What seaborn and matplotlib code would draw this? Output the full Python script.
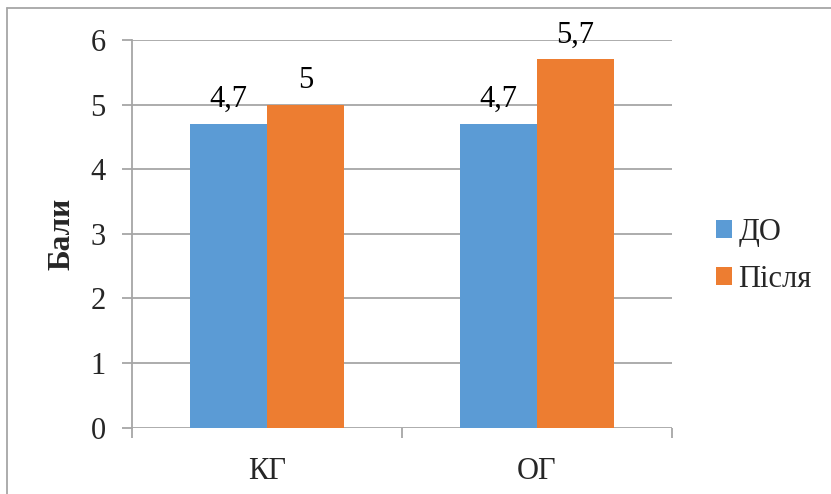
import matplotlib
matplotlib.use("Agg")
import matplotlib.pyplot as plt
from matplotlib.lines import Line2D
from matplotlib.ticker import FixedLocator
import seaborn as sns
import pandas as pd

groups = ["КГ", "ОГ"]
series = ["ДО", "Після"]
before = [4.7, 4.7]
after = [5.0, 5.7]
y_ticks = [0, 1, 2, 3, 4, 5, 6]
colors = ["#5B9BD5", "#ED7D31"]

df = pd.DataFrame({
    "group": groups * 2,
    "period": [series[0]] * len(groups) + [series[1]] * len(groups),
    "score": before + after,
})

sns.set_theme(style="white")
plt.rcParams["font.family"] = ["Liberation Serif", "DejaVu Serif"]

W, H = 831, 494
fig = plt.figure(figsize=(W / 100, H / 100), dpi=100)
ax = fig.add_axes([132 / W, 1 - 427.5 / H, (672 - 132) / W, (427.5 - 40) / H])

sns.barplot(data=df, x="group", y="score", hue="period", palette=colors,
            width=0.57, gap=0, saturation=1, ax=ax, legend=True)

for container in ax.containers:
    labels = [f"{v:g}".replace(".", ",") for v in container.datavalues]
    ax.bar_label(container, labels=labels, padding=7, fontsize=22, color="black")

for p in ax.patches:
    p.set_edgecolor("none")

ax.set_ylim(0, 6)
ax.set_xlim(-0.5, 1.5)
ax.set_yticks(y_ticks)
ax.set_yticklabels([str(t) for t in y_ticks], fontsize=22)
ax.grid(axis="y", color="#a6a6a6", linewidth=1.3)
ax.set_axisbelow(True)

for side in ["top", "right", "bottom"]:
    ax.spines[side].set_visible(False)
ax.spines["left"].set_color("#a6a6a6")
ax.spines["left"].set_linewidth(1.3)

ax.set_xticks([0, 1])
ax.set_xticklabels(groups)

# category boundary ticks on the x axis
ax.xaxis.set_minor_locator(FixedLocator([-0.5, 0.5, 1.5]))
ax.tick_params(axis="x", which="major", length=0, pad=21, labelsize=22)
ax.tick_params(axis="x", which="minor", bottom=True, length=7, width=1.3, color="#a6a6a6")
ax.tick_params(axis="y", which="major", left=True, length=7, width=1.3, color="#a6a6a6",
               pad=12, labelsize=22)
ax.set_xlabel("")
ax.set_ylabel("Бали", fontsize=22.5, fontweight="bold", labelpad=10)

handles, labels = ax.get_legend_handles_labels()
ax.legend(handles, labels, loc="center left", bbox_to_anchor=(716 / W, 1 - 256 / H),
          bbox_transform=fig.transFigure, frameon=False, fontsize=22,
          handlelength=0.52, handleheight=0.52, handletextpad=0.22,
          labelspacing=0.6, borderpad=0, borderaxespad=0, title=None)

# outer frame
ybord = 1 - 8 / H
xbord = 7 / W
fig.add_artist(Line2D([xbord, xbord], [0, ybord], transform=fig.transFigure,
                      color="#a6a6a6", linewidth=1.3))
fig.add_artist(Line2D([xbord, 1], [ybord, ybord], transform=fig.transFigure,
                      color="#a6a6a6", linewidth=1.3))

fig.savefig("out.png", dpi=100)
